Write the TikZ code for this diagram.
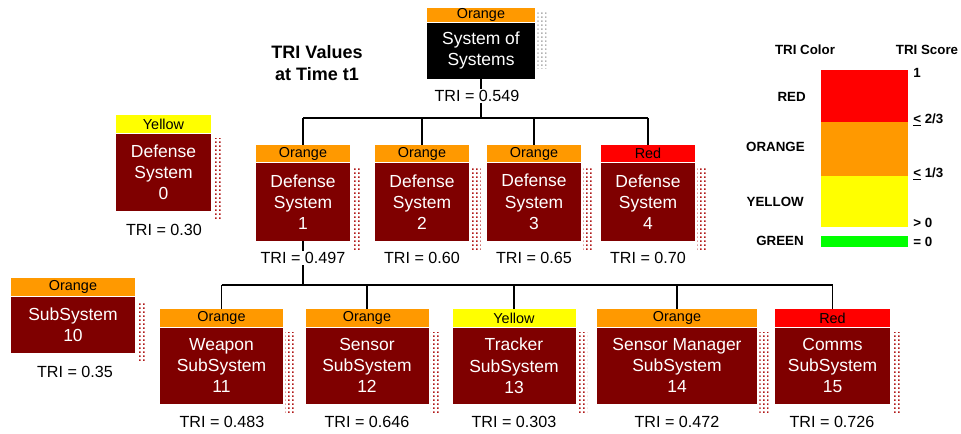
\documentclass[tikz,border=0pt]{standalone}
\usepackage{fontspec}
\setmainfont{Liberation Sans}
\usetikzlibrary{patterns,backgrounds}
\definecolor{maroon}{HTML}{7F0000}
\definecolor{triorange}{HTML}{FF9900}
\definecolor{triyellow}{HTML}{FFFF00}
\definecolor{trired}{HTML}{FF0000}
\definecolor{trigreen}{HTML}{00FF00}
\definecolor{dotred}{HTML}{B01818}
% square dot grid for the drop shadows
\pgfdeclarepatternformonly{tridots}{\pgfpointorigin}{\pgfqpoint{2.6pt}{2.6pt}}{\pgfqpoint{2.6pt}{2.6pt}}{%
  \pgfpathrectangle{\pgfpointorigin}{\pgfqpoint{1.3pt}{1.3pt}}\pgfusepath{fill}}
\begin{document}
\begin{tikzpicture}[x=0.75pt,y=-0.75pt,
  lab/.style={inner sep=0pt, text=black, font=\fontsize{10.8}{12}\selectfont},
  body/.style={fill=maroon, text=white, inner sep=0pt, align=center,
    font=\fontsize{13.1}{15.8}\selectfont},
  tri/.style={fill=white, inner sep=1pt, font=\fontsize{12.1}{14}\selectfont},
  shade/.style={pattern=tridots, pattern color=dotred},
  legtxt/.style={inner sep=0pt, font=\bfseries\fontsize{10}{12}\selectfont},
  wire/.style={draw=black, line width=1pt}]
\useasboundingbox (0,0) rectangle (961,434);

% ---- top system node
\node[lab, fill=triorange, minimum width=81pt, minimum height=10.5pt, anchor=north] (sosl) at (481,8) {Orange};
\node[body, fill=black, minimum width=81pt, minimum height=42pt, anchor=north] (sos) at (sosl.south) {System of\\Systems};
\node[tri] (sostri) at (477,96) {TRI = 0.549};

% ---- heading
\node[align=center, font=\bfseries\fontsize{13.5}{16.5}\selectfont] (head) at (317,63) {TRI Values\\at Time t1};

% ---- stand-alone defense system 0
\node[lab, fill=triyellow, minimum width=71.25pt, minimum height=13.5pt, anchor=north] (d0l) at (163.5,115) {Yellow};
\node[body, minimum width=71.25pt, minimum height=57.75pt, anchor=north] (d0) at (d0l.south) {Defense\\System\\0};
\node[tri] (d0tri) at (164,230) {TRI = 0.30};

% ---- defense systems 1-4
\node[lab, fill=triorange, minimum width=70.5pt, minimum height=12.75pt, anchor=north] (d1l) at (303,145) {Orange};
\node[body, minimum width=70.5pt, minimum height=58.5pt, anchor=north] (d1) at (d1l.south) {Defense\\System\\1};
\node[tri] (d1tri) at (303,258) {TRI = 0.497};

\node[lab, fill=triorange, minimum width=70.5pt, minimum height=12.75pt, anchor=north] (d2l) at (422,145) {Orange};
\node[body, minimum width=70.5pt, minimum height=58.5pt, anchor=north] (d2) at (d2l.south) {Defense\\System\\2};
\node[tri] (d2tri) at (422,258) {TRI = 0.60};

\node[lab, fill=triorange, minimum width=70.5pt, minimum height=12.75pt, anchor=north] (d3l) at (534,145) {Orange};
\node[body, minimum width=70.5pt, minimum height=58.5pt, anchor=north] (d3) at (d3l.south) {Defense\\System\\3};
\node[tri] (d3tri) at (534,258) {TRI = 0.65};

\node[lab, fill=trired, minimum width=70.5pt, minimum height=12.75pt, anchor=north] (d4l) at (648,145) {Red};
\node[body, minimum width=70.5pt, minimum height=58.5pt, anchor=north] (d4) at (d4l.south) {Defense\\System\\4};
\node[tri] (d4tri) at (648,258) {TRI = 0.70};

% ---- stand-alone subsystem 10
\node[lab, fill=triorange, minimum width=93pt, minimum height=13.5pt, anchor=north] (s10l) at (73,278) {Orange};
\node[body, minimum width=93pt, minimum height=42pt, anchor=north] (s10) at (s10l.south) {SubSystem\\10};
\node[tri] (s10tri) at (75,372) {TRI = 0.35};

% ---- subsystems 11-15
\node[lab, fill=triorange, minimum width=92.25pt, minimum height=13.5pt, anchor=north] (s11l) at (221.5,309) {Orange};
\node[body, minimum width=92.25pt, minimum height=57pt, anchor=north] (s11) at (s11l.south) {Weapon\\SubSystem\\11};
\node[tri] (s11tri) at (222,422) {TRI = 0.483};

\node[lab, fill=triorange, minimum width=92.25pt, minimum height=13.5pt, anchor=north] (s12l) at (367,309) {Orange};
\node[body, minimum width=92.25pt, minimum height=57pt, anchor=north] (s12) at (s12l.south) {Sensor\\SubSystem\\12};
\node[tri] (s12tri) at (367,422) {TRI = 0.646};

\node[lab, fill=triyellow, minimum width=92.25pt, minimum height=13.5pt, anchor=north] (s13l) at (514,309) {Yellow};
\node[body, minimum width=92.25pt, minimum height=57pt, anchor=north] (s13) at (s13l.south) {Tracker\\SubSystem\\13};
\node[tri] (s13tri) at (514,422) {TRI = 0.303};

\node[lab, fill=triorange, minimum width=120pt, minimum height=13.5pt, anchor=north] (s14l) at (677,309) {Orange};
\node[body, minimum width=120pt, minimum height=57pt, anchor=north] (s14) at (s14l.south) {Sensor Manager\\SubSystem\\14};
\node[tri] (s14tri) at (677,422) {TRI = 0.472};

\node[lab, fill=trired, minimum width=86.25pt, minimum height=13.5pt, anchor=north] (s15l) at (832.5,309) {Red};
\node[body, minimum width=86.25pt, minimum height=57pt, anchor=north] (s15) at (s15l.south) {Comms\\SubSystem\\15};
\node[tri] (s15tri) at (832,422) {TRI = 0.726};

% ---- connectors and dotted drop shadows behind the boxes
\begin{pgfonlayer}{background}
  \coordinate (busa) at (481,118);
  \coordinate (busb) at (305,285);
  \draw[wire] (sos.south) -- (busa);
  \draw[wire] (d1l.north |- busa) -- (d4l.north |- busa);
  \foreach \n in {d1l,d2l,d3l,d4l} \draw[wire] (\n.north |- busa) -- (\n.north);
  \draw[wire] (d1.south) -- (d1.south |- busb);
  \draw[wire] (s11l.north |- busb) -- (s15l.north |- busb);
  \foreach \n in {s11l,s12l,s13l,s14l,s15l} \draw[wire] (\n.north |- busb) -- (\n.north);

  \fill[pattern=tridots, pattern color=gray!60] ([xshift=1.5pt,yshift=-3pt]sosl.north east) rectangle ([xshift=8.5pt,yshift=8pt]sos.south east);
  \foreach \b in {d0,d1,d2,d3,d4,s10,s11,s12,s13,s14,s15}
    \fill[shade] ([xshift=1.5pt,yshift=-4pt]\b.north east) rectangle ([xshift=8.5pt,yshift=-7pt]\b.south east);
\end{pgfonlayer}

% ---- legend
\node[legtxt] (lgc) at (805,50) {TRI Color};
\node[legtxt] (lgs) at (927,50) {TRI Score};
\fill[trired]    (821,70)  rectangle (908,122);
\fill[triorange] (821,122) rectangle (908,176);
\fill[triyellow] (821,176) rectangle (908,227);
\fill[trigreen]  (821,236) rectangle (908,247);
\node[legtxt, anchor=east] (lred) at (806,97)  {RED};
\node[legtxt, anchor=east] (lora) at (805,147) {ORANGE};
\node[legtxt, anchor=east] (lyel) at (804,202) {YELLOW};
\node[legtxt, anchor=east] (lgre) at (804,241) {GREEN};
\node[legtxt, anchor=west] (v1)  at (913,73)  {1};
\node[legtxt, anchor=west] (v23) at (913,120) {\underline{<} 2/3};
\node[legtxt, anchor=west] (v13) at (913,174) {\underline{<} 1/3};
\node[legtxt, anchor=west] (v0)  at (913,223) {> 0};
\node[legtxt, anchor=west] (v00) at (913,242) {= 0};
\end{tikzpicture}
\end{document}
